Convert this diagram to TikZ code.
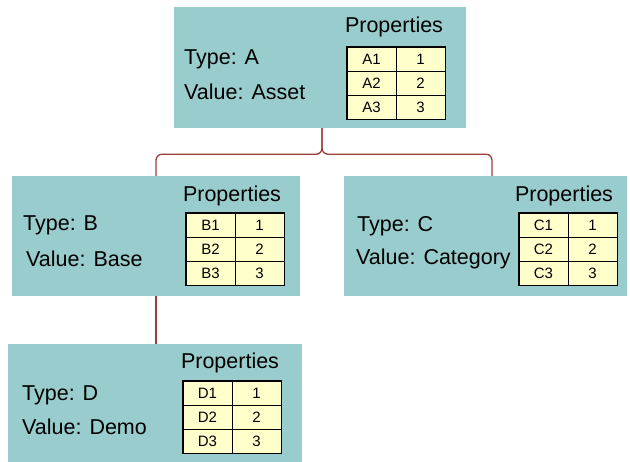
\documentclass[tikz,border=0pt]{standalone}
\usepackage{fontspec}
\setmainfont{Liberation Sans}
\definecolor{boxteal}{RGB}{153,204,204}
\definecolor{cellyellow}{RGB}{255,255,204}
\definecolor{linkred}{RGB}{160,60,60}

\begin{document}
\begin{tikzpicture}[x=1pt,y=-1pt,
    box/.style={fill=boxteal,inner sep=0pt},
    txt/.style={font=\fontsize{21.5}{25}\selectfont,inner sep=0pt},
    cell/.style={draw,fill=cellyellow,line width=0.9pt,minimum width=49pt,minimum height=24pt,inner sep=0pt,font=\fontsize{15}{17}\selectfont},
    tblframe/.style={line width=1.4pt},
    link/.style={draw=linkred,line width=1.3pt,rounded corners=6pt}]
      \useasboundingbox (0,0) rectangle (630,462) ;
      % boxes
      \node[box,minimum width=292,minimum height=121] (boxA) at (320,67.5) {} ;
      \node[box,minimum width=288,minimum height=120] (boxB) at (156,236) {} ;
      \node[box,minimum width=283,minimum height=120] (boxC) at (485.5,236) {} ;
      \node[box,minimum width=294,minimum height=118] (boxD) at (155,403) {} ;
      % texts
      \node[txt,anchor=base west] (typeA) at (184,65) {Type: A} ;
      \node[txt,anchor=base west] (valA) at (184,100) {Value: Asset} ;
      \node[txt,anchor=base] (propA) at (394,33) {Properties} ;
      \node[txt,anchor=base west] (typeB) at (23,231) {Type: B} ;
      \node[txt,anchor=base west] (valB) at (26,267) {Value: Base} ;
      \node[txt,anchor=base] (propB) at (232,202) {Properties} ;
      \node[txt,anchor=base west] (typeC) at (357,232) {Type: C} ;
      \node[txt,anchor=base west] (valC) at (356,265) {Value: Category} ;
      \node[txt,anchor=base] (propC) at (564,202) {Properties} ;
      \node[txt,anchor=base west] (typeD) at (22,401) {Type: D} ;
      \node[txt,anchor=base west] (valD) at (22,435) {Value: Demo} ;
      \node[txt,anchor=base] (propD) at (230,369) {Properties} ;
      % tables
      \foreach \r in {1,2,3} {
        \node[cell] (A\r k) at (371.5,35+24*\r) {A\r} ;
        \node[cell] (A\r v) at (420.5,35+24*\r) {\r} ;
        \node[cell] (B\r k) at (210.5,201+24*\r) {B\r} ;
        \node[cell] (B\r v) at (259.5,201+24*\r) {\r} ;
        \node[cell] (C\r k) at (543.5,201+24*\r) {C\r} ;
        \node[cell] (C\r v) at (592.5,201+24*\r) {\r} ;
        \node[cell] (D\r k) at (207.5,369+24*\r) {D\r} ;
        \node[cell] (D\r v) at (256.5,369+24*\r) {\r} ;
      }
      \draw[tblframe] (A1k.north west) rectangle (A3v.south east) ;
      \draw[tblframe] (B1k.north west) rectangle (B3v.south east) ;
      \draw[tblframe] (C1k.north west) rectangle (C3v.south east) ;
      \draw[tblframe] (D1k.north west) rectangle (D3v.south east) ;
      % connectors
      \draw[link] ([xshift=2pt]boxA.south) -- ++(0,26) -| (boxB.north) ;
      \draw[link] ([xshift=2pt]boxA.south) -- ++(0,26) -| ([xshift=6.5pt]boxC.north) ;
      \draw[link] (boxB.south) -- (boxB.south |- boxD.north) ;
    \end{tikzpicture}
\end{document}
